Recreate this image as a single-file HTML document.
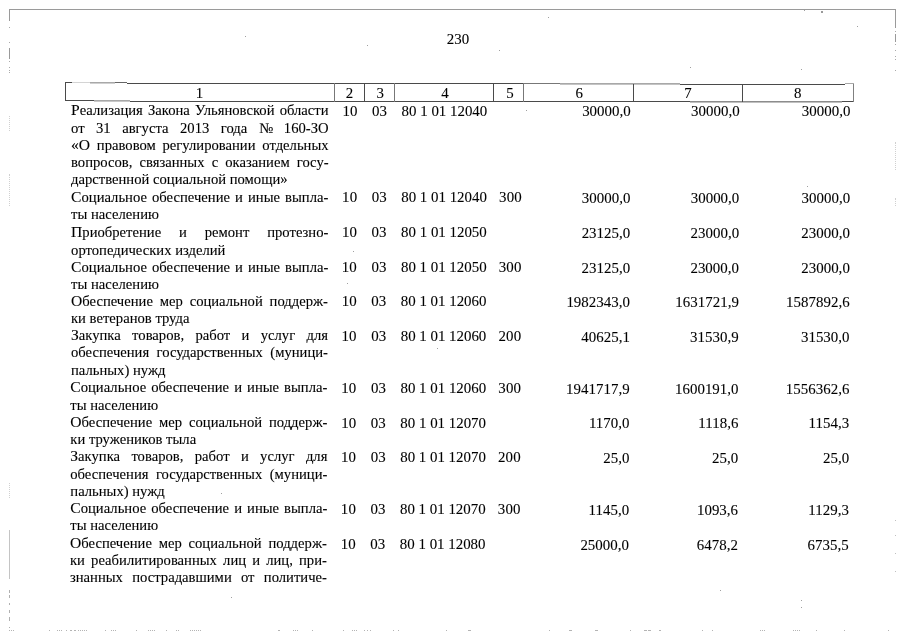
<!DOCTYPE html>
<html lang="ru">
<head>
<meta charset="utf-8">
<title>230</title>
<style>
html,body{margin:0;padding:0;background:#fff;}
body{width:905px;height:640px;position:relative;overflow:hidden;font-family:"Liberation Serif",serif;font-size:14.65px;line-height:17.0px;color:#000;-webkit-text-stroke:0.1px #000;}
.t{position:absolute;white-space:nowrap;height:17.0px;}
.j{white-space:normal;text-align:justify;text-align-last:justify;}
.nb{display:inline-block;white-space:nowrap;}
.d{font-size:14.9px;letter-spacing:0.1px;transform:scaleY(1.03);transform-origin:0 13px;}
.c{transform:scaleY(1.04);transform-origin:0 13px;}
.cap::first-letter{font-size:15.6px;line-height:14px;}
.r{position:absolute;}
.dv{position:absolute;width:0;border-left:1px dotted #d0d0d0;}
.sp{position:absolute;left:0;top:0;}
</style>
</head>
<body>
<div class="r" style="left:65px;top:82px;width:7px;height:1px;background:#4a4a4a"></div><div class="r" style="left:72px;top:82px;width:18px;height:1px;background:#d4d4d4"></div><div class="r" style="left:90px;top:82px;width:25px;height:1px;background:#a8a8a8"></div><div class="r" style="left:90px;top:83px;width:25px;height:1px;background:#d0d0d0"></div><div class="r" style="left:115px;top:82px;width:12px;height:1px;background:#666"></div><div class="r" style="left:127px;top:83px;width:397px;height:1px;background:#4a4a4a"></div><div class="r" style="left:524px;top:83px;width:36px;height:1px;background:#777"></div><div class="r" style="left:560px;top:83px;width:120px;height:1px;background:#a8a8a8"></div><div class="r" style="left:560px;top:84px;width:120px;height:1px;background:#c4c4c4"></div><div class="r" style="left:680px;top:84px;width:165px;height:1px;background:#4a4a4a"></div><div class="r" style="left:845px;top:83px;width:9px;height:1px;background:#a8a8a8"></div><div class="r" style="left:65px;top:100px;width:29px;height:1px;background:#4a4a4a"></div><div class="r" style="left:94px;top:100px;width:36px;height:1px;background:#a8a8a8"></div><div class="r" style="left:94px;top:101px;width:36px;height:1px;background:#c8c8c8"></div><div class="r" style="left:130px;top:101px;width:560px;height:1px;background:#4a4a4a"></div><div class="r" style="left:690px;top:101px;width:152px;height:1px;background:#8c8c8c"></div><div class="r" style="left:690px;top:102px;width:152px;height:1px;background:#c0c0c0"></div><div class="r" style="left:842px;top:101px;width:12px;height:1px;background:#4a4a4a"></div><div class="r" style="left:65px;top:82px;width:1px;height:19px;background:#4a4a4a"></div><div class="r" style="left:334px;top:83px;width:1px;height:19px;background:#777"></div><div class="r" style="left:364px;top:83px;width:1px;height:19px;background:#4a4a4a"></div><div class="r" style="left:394px;top:83px;width:1px;height:19px;background:#777"></div><div class="r" style="left:493px;top:83px;width:1px;height:19px;background:#4a4a4a"></div><div class="r" style="left:523px;top:83px;width:1px;height:19px;background:#777"></div><div class="r" style="left:633px;top:84px;width:1px;height:18px;background:#4a4a4a"></div><div class="r" style="left:742px;top:84px;width:1px;height:18px;background:#4a4a4a"></div><div class="r" style="left:853px;top:84px;width:1px;height:18px;background:#808080"></div><div class="r" style="left:9px;top:9px;width:887px;height:1px;background:#9a9a9a"></div><div class="r" style="left:9px;top:9px;width:1px;height:12px;background:#9a9a9a"></div><div class="r" style="left:895px;top:9px;width:1px;height:19px;background:#9a9a9a"></div><div class="r" style="left:895px;top:34px;width:1px;height:8px;background:#9a9a9a"></div><div class="r" style="left:9px;top:48px;width:1px;height:11px;background:#9a9a9a"></div><div class="r" style="left:9px;top:27px;width:1px;height:1px;background:#aaa"></div><div class="r" style="left:9px;top:42px;width:1px;height:1px;background:#aaa"></div><div class="r" style="left:9px;top:61px;width:1px;height:1px;background:#aaa"></div><div class="r" style="left:9px;top:67px;width:1px;height:1px;background:#aaa"></div><div class="r" style="left:9px;top:70px;width:1px;height:1px;background:#aaa"></div><div class="r" style="left:9px;top:72px;width:1px;height:1px;background:#aaa"></div><div class="r" style="left:895px;top:31px;width:1px;height:1px;background:#aaa"></div><div class="r" style="left:895px;top:44px;width:1px;height:1px;background:#aaa"></div><div class="r" style="left:895px;top:50px;width:1px;height:1px;background:#aaa"></div><div class="r" style="left:895px;top:56px;width:1px;height:1px;background:#aaa"></div><div class="r" style="left:895px;top:59px;width:1px;height:1px;background:#aaa"></div><div class="r" style="left:895px;top:70px;width:1px;height:1px;background:#aaa"></div><div class="r" style="left:9px;top:530px;width:1px;height:49px;background:#c4c4c4"></div>
<div class="dv" style="left:9px;top:116px;height:15px"></div>
<div class="dv" style="left:9px;top:174px;height:32px"></div>
<div class="dv" style="left:9px;top:483px;height:15px"></div>
<div class="dv" style="left:895px;top:142px;height:28px"></div>
<div class="dv" style="left:895px;top:198px;height:8px"></div>
<svg class="sp" width="905" height="640" viewBox="0 0 905 640" shape-rendering="crispEdges"><rect x="9" y="630" width="1" height="1" fill="#b4b4b4"/><rect x="11" y="630" width="1" height="1" fill="#b4b4b4"/><rect x="13" y="630" width="1" height="1" fill="#b4b4b4"/><rect x="49" y="630" width="1" height="1" fill="#b4b4b4"/><rect x="57" y="630" width="1" height="1" fill="#b4b4b4"/><rect x="59" y="630" width="1" height="1" fill="#b4b4b4"/><rect x="61" y="630" width="1" height="1" fill="#b4b4b4"/><rect x="66" y="630" width="1" height="1" fill="#b4b4b4"/><rect x="70" y="630" width="2" height="1" fill="#b4b4b4"/><rect x="74" y="630" width="2" height="1" fill="#b4b4b4"/><rect x="78" y="630" width="1" height="1" fill="#b4b4b4"/><rect x="80" y="630" width="1" height="1" fill="#b4b4b4"/><rect x="82" y="630" width="1" height="1" fill="#b4b4b4"/><rect x="84" y="630" width="1" height="1" fill="#b4b4b4"/><rect x="86" y="630" width="1" height="1" fill="#b4b4b4"/><rect x="105" y="630" width="1" height="1" fill="#b4b4b4"/><rect x="111" y="630" width="1" height="1" fill="#b4b4b4"/><rect x="113" y="630" width="1" height="1" fill="#b4b4b4"/><rect x="115" y="630" width="1" height="1" fill="#b4b4b4"/><rect x="136" y="630" width="1" height="1" fill="#b4b4b4"/><rect x="148" y="630" width="1" height="1" fill="#b4b4b4"/><rect x="150" y="630" width="1" height="1" fill="#b4b4b4"/><rect x="152" y="630" width="1" height="1" fill="#b4b4b4"/><rect x="154" y="630" width="1" height="1" fill="#b4b4b4"/><rect x="166" y="630" width="1" height="1" fill="#b4b4b4"/><rect x="176" y="630" width="1" height="1" fill="#b4b4b4"/><rect x="178" y="630" width="1" height="1" fill="#b4b4b4"/><rect x="190" y="630" width="1" height="1" fill="#b4b4b4"/><rect x="192" y="630" width="1" height="1" fill="#b4b4b4"/><rect x="194" y="630" width="1" height="1" fill="#b4b4b4"/><rect x="196" y="630" width="1" height="1" fill="#b4b4b4"/><rect x="198" y="630" width="1" height="1" fill="#b4b4b4"/><rect x="200" y="630" width="1" height="1" fill="#b4b4b4"/><rect x="278" y="630" width="2" height="1" fill="#b4b4b4"/><rect x="293" y="630" width="1" height="1" fill="#b4b4b4"/><rect x="295" y="630" width="1" height="1" fill="#b4b4b4"/><rect x="297" y="630" width="1" height="1" fill="#b4b4b4"/><rect x="312" y="630" width="1" height="1" fill="#b4b4b4"/><rect x="343" y="630" width="1" height="1" fill="#b4b4b4"/><rect x="352" y="630" width="1" height="1" fill="#b4b4b4"/><rect x="354" y="630" width="1" height="1" fill="#b4b4b4"/><rect x="356" y="630" width="1" height="1" fill="#b4b4b4"/><rect x="364" y="630" width="1" height="1" fill="#b4b4b4"/><rect x="367" y="630" width="1" height="1" fill="#b4b4b4"/><rect x="370" y="630" width="1" height="1" fill="#b4b4b4"/><rect x="393" y="630" width="1" height="1" fill="#b4b4b4"/><rect x="398" y="630" width="1" height="1" fill="#b4b4b4"/><rect x="446" y="630" width="1" height="1" fill="#b4b4b4"/><rect x="468" y="630" width="3" height="1" fill="#b4b4b4"/><rect x="549" y="630" width="1" height="1" fill="#b4b4b4"/><rect x="569" y="630" width="3" height="1" fill="#b4b4b4"/><rect x="595" y="630" width="3" height="1" fill="#b4b4b4"/><rect x="630" y="630" width="1" height="1" fill="#b4b4b4"/><rect x="644" y="630" width="3" height="1" fill="#b4b4b4"/><rect x="648" y="630" width="3" height="1" fill="#b4b4b4"/><rect x="659" y="630" width="2" height="1" fill="#b4b4b4"/><rect x="702" y="630" width="1" height="1" fill="#b4b4b4"/><rect x="712" y="630" width="1" height="1" fill="#b4b4b4"/><rect x="760" y="630" width="1" height="1" fill="#b4b4b4"/><rect x="762" y="630" width="1" height="1" fill="#b4b4b4"/><rect x="764" y="630" width="1" height="1" fill="#b4b4b4"/><rect x="793" y="630" width="1" height="1" fill="#b4b4b4"/><rect x="795" y="630" width="1" height="1" fill="#b4b4b4"/><rect x="797" y="630" width="1" height="1" fill="#b4b4b4"/><rect x="799" y="630" width="1" height="1" fill="#b4b4b4"/><rect x="816" y="630" width="1" height="1" fill="#b4b4b4"/><rect x="844" y="630" width="1" height="1" fill="#b4b4b4"/><rect x="888" y="630" width="1" height="1" fill="#b4b4b4"/><rect x="9" y="590" width="1" height="3" fill="#b0b0b0"/><rect x="9" y="595" width="1" height="3" fill="#b0b0b0"/><rect x="9" y="603" width="1" height="2" fill="#b0b0b0"/><rect x="9" y="610" width="1" height="3" fill="#b0b0b0"/><rect x="9" y="617" width="1" height="4" fill="#b0b0b0"/><rect x="9" y="627" width="1" height="1" fill="#b0b0b0"/><rect x="895" y="520" width="1" height="1" fill="#c0c0c0"/><rect x="895" y="535" width="1" height="1" fill="#c0c0c0"/><rect x="895" y="553" width="1" height="1" fill="#c0c0c0"/><rect x="895" y="571" width="1" height="1" fill="#c0c0c0"/><rect x="245" y="36" width="1" height="1" fill="#a0a0a0"/><rect x="367" y="45" width="1" height="1" fill="#a0a0a0"/><rect x="499" y="50" width="1" height="1" fill="#a0a0a0"/><rect x="548" y="17" width="1" height="1" fill="#a0a0a0"/><rect x="690" y="67" width="1" height="1" fill="#a0a0a0"/><rect x="857" y="26" width="1" height="1" fill="#a0a0a0"/><rect x="821" y="11" width="1" height="1" fill="#a0a0a0"/><rect x="804" y="10" width="1" height="1" fill="#a0a0a0"/><rect x="801" y="69" width="1" height="1" fill="#a0a0a0"/><rect x="807" y="186" width="1" height="1" fill="#a0a0a0"/><rect x="603" y="303" width="1" height="1" fill="#a0a0a0"/><rect x="437" y="348" width="1" height="1" fill="#a0a0a0"/><rect x="221" y="493" width="1" height="1" fill="#a0a0a0"/><rect x="231" y="597" width="1" height="1" fill="#a0a0a0"/><rect x="353" y="251" width="1" height="1" fill="#a0a0a0"/><rect x="347" y="283" width="1" height="1" fill="#a0a0a0"/><rect x="720" y="590" width="1" height="1" fill="#a0a0a0"/><rect x="801" y="600" width="1" height="1" fill="#a0a0a0"/><rect x="801" y="607" width="1" height="1" fill="#a0a0a0"/><rect x="526" y="110" width="1" height="1" fill="#a0a0a0"/><rect x="821" y="11" width="2" height="2" fill="#999"/></svg>
<div class="t j cap" style="top:102px;left:71.00px;width:257.60px;">Реализация Закона Ульяновской области</div>
<div class="t j" style="top:120px;left:71.00px;width:176.30px;">от 31 августа 2013 года</div>
<div class="t " style="top:120px;left:258.90px;">№</div>
<div class="t c" style="top:120px;right:576.40px;">160-ЗО</div>
<div class="t j cap" style="top:137px;left:71.00px;width:257.60px;">«О правовом регулировании отдельных</div>
<div class="t j" style="top:154px;left:71.00px;width:257.60px;">вопросов, связанных с оказанием госу-</div>
<div class="t " style="top:171px;left:71.00px;">дарственной социальной помощи»</div>
<div class="t j cap" style="top:189px;left:71.10px;width:257.30px;">Социальное обеспечение и иные выпла-</div>
<div class="t " style="top:206px;left:71.10px;">ты населению</div>
<div class="t j cap" style="top:224px;left:71.10px;width:257.30px;">Приобретение и ремонт протезно-</div>
<div class="t " style="top:242px;left:71.10px;">ортопедических изделий</div>
<div class="t j cap" style="top:259px;left:71.10px;width:257.30px;">Социальное обеспечение и иные выпла-</div>
<div class="t " style="top:276px;left:71.10px;">ты населению</div>
<div class="t j cap" style="top:293px;left:71.00px;width:257.00px;">Обеспечение мер социальной поддерж-</div>
<div class="t " style="top:310px;left:71.00px;">ки ветеранов труда</div>
<div class="t j cap" style="top:327px;left:71.00px;width:257.00px;">Закупка товаров, работ и услуг для</div>
<div class="t j" style="top:344px;left:71.00px;width:257.00px;">обеспечения государственных (муници-</div>
<div class="t " style="top:362px;left:71.00px;">пальных) нужд</div>
<div class="t j cap" style="top:379px;left:70.30px;width:257.10px;">Социальное обеспечение и иные выпла-</div>
<div class="t " style="top:397px;left:70.30px;">ты населению</div>
<div class="t j cap" style="top:414px;left:70.30px;width:257.10px;">Обеспечение мер социальной поддерж-</div>
<div class="t " style="top:431px;left:70.30px;">ки тружеников тыла</div>
<div class="t j cap" style="top:448px;left:70.30px;width:257.10px;">Закупка товаров, работ и услуг для</div>
<div class="t j" style="top:466px;left:70.30px;width:257.10px;">обеспечения государственных (муници-</div>
<div class="t " style="top:483px;left:70.30px;">пальных) нужд</div>
<div class="t j cap" style="top:500px;left:70.30px;width:257.10px;">Социальное обеспечение и иные выпла-</div>
<div class="t " style="top:517px;left:70.30px;">ты населению</div>
<div class="t j cap" style="top:535px;left:70.00px;width:256.90px;">Обеспечение мер социальной поддерж-</div>
<div class="t j" style="top:552px;left:70.00px;width:256.90px;">ки реабилитированных лиц и лиц, при-</div>
<div class="t j" style="top:569px;left:70.00px;width:256.90px;">знанных пострадавшими от политиче-</div>
<div class="t d" style="top:103px;left:300.00px;width:100px;text-align:center;">10</div>
<div class="t d" style="top:103px;left:329.60px;width:100px;text-align:center;">03</div>
<div class="t d" style="top:103px;left:401.60px;letter-spacing:0;">80 1 01 12040</div>
<div class="t d" style="top:103px;right:274.20px;letter-spacing:0.04px;">30000,0</div>
<div class="t d" style="top:103px;right:165.30px;letter-spacing:0.04px;">30000,0</div>
<div class="t d" style="top:103px;right:54.50px;letter-spacing:0.04px;">30000,0</div>
<div class="t d" style="top:189px;left:299.65px;width:100px;text-align:center;">10</div>
<div class="t d" style="top:189px;left:329.25px;width:100px;text-align:center;">03</div>
<div class="t d" style="top:189px;left:401.25px;letter-spacing:0;">80 1 01 12040</div>
<div class="t d" style="top:189px;left:460.45px;width:100px;text-align:center;">300</div>
<div class="t d" style="top:190px;right:274.55px;letter-spacing:0.04px;">30000,0</div>
<div class="t d" style="top:190px;right:165.65px;letter-spacing:0.04px;">30000,0</div>
<div class="t d" style="top:190px;right:54.85px;letter-spacing:0.04px;">30000,0</div>
<div class="t d" style="top:224px;left:299.51px;width:100px;text-align:center;">10</div>
<div class="t d" style="top:224px;left:329.11px;width:100px;text-align:center;">03</div>
<div class="t d" style="top:224px;left:401.11px;letter-spacing:0;">80 1 01 12050</div>
<div class="t d" style="top:225px;right:274.69px;letter-spacing:0.04px;">23125,0</div>
<div class="t d" style="top:225px;right:165.79px;letter-spacing:0.04px;">23000,0</div>
<div class="t d" style="top:225px;right:54.99px;letter-spacing:0.04px;">23000,0</div>
<div class="t d" style="top:259px;left:299.37px;width:100px;text-align:center;">10</div>
<div class="t d" style="top:259px;left:328.97px;width:100px;text-align:center;">03</div>
<div class="t d" style="top:259px;left:400.97px;letter-spacing:0;">80 1 01 12050</div>
<div class="t d" style="top:259px;left:460.17px;width:100px;text-align:center;">300</div>
<div class="t d" style="top:260px;right:274.83px;letter-spacing:0.04px;">23125,0</div>
<div class="t d" style="top:260px;right:165.93px;letter-spacing:0.04px;">23000,0</div>
<div class="t d" style="top:260px;right:55.13px;letter-spacing:0.04px;">23000,0</div>
<div class="t d" style="top:293px;left:299.24px;width:100px;text-align:center;">10</div>
<div class="t d" style="top:293px;left:328.84px;width:100px;text-align:center;">03</div>
<div class="t d" style="top:293px;left:400.84px;letter-spacing:0;">80 1 01 12060</div>
<div class="t d" style="top:294px;right:274.97px;letter-spacing:0.04px;">1982343,0</div>
<div class="t d" style="top:294px;right:166.07px;letter-spacing:0.04px;">1631721,9</div>
<div class="t d" style="top:294px;right:55.27px;letter-spacing:0.04px;">1587892,6</div>
<div class="t d" style="top:328px;left:299.10px;width:100px;text-align:center;">10</div>
<div class="t d" style="top:328px;left:328.70px;width:100px;text-align:center;">03</div>
<div class="t d" style="top:328px;left:400.70px;letter-spacing:0;">80 1 01 12060</div>
<div class="t d" style="top:328px;left:459.90px;width:100px;text-align:center;">200</div>
<div class="t d" style="top:329px;right:275.11px;letter-spacing:0.04px;">40625,1</div>
<div class="t d" style="top:329px;right:166.21px;letter-spacing:0.04px;">31530,9</div>
<div class="t d" style="top:329px;right:55.41px;letter-spacing:0.04px;">31530,0</div>
<div class="t d" style="top:380px;left:298.89px;width:100px;text-align:center;">10</div>
<div class="t d" style="top:380px;left:328.49px;width:100px;text-align:center;">03</div>
<div class="t d" style="top:380px;left:400.49px;letter-spacing:0;">80 1 01 12060</div>
<div class="t d" style="top:380px;left:459.69px;width:100px;text-align:center;">300</div>
<div class="t d" style="top:381px;right:275.32px;letter-spacing:0.04px;">1941717,9</div>
<div class="t d" style="top:381px;right:166.42px;letter-spacing:0.04px;">1600191,0</div>
<div class="t d" style="top:381px;right:55.62px;letter-spacing:0.04px;">1556362,6</div>
<div class="t d" style="top:415px;left:298.75px;width:100px;text-align:center;">10</div>
<div class="t d" style="top:415px;left:328.35px;width:100px;text-align:center;">03</div>
<div class="t d" style="top:415px;left:400.35px;letter-spacing:0;">80 1 01 12070</div>
<div class="t d" style="top:415px;right:275.45px;letter-spacing:0.04px;">1170,0</div>
<div class="t d" style="top:415px;right:166.55px;letter-spacing:0.04px;">1118,6</div>
<div class="t d" style="top:415px;right:55.75px;letter-spacing:0.04px;">1154,3</div>
<div class="t d" style="top:449px;left:298.61px;width:100px;text-align:center;">10</div>
<div class="t d" style="top:449px;left:328.21px;width:100px;text-align:center;">03</div>
<div class="t d" style="top:449px;left:400.21px;letter-spacing:0;">80 1 01 12070</div>
<div class="t d" style="top:449px;left:459.41px;width:100px;text-align:center;">200</div>
<div class="t d" style="top:450px;right:275.59px;letter-spacing:0.04px;">25,0</div>
<div class="t d" style="top:450px;right:166.69px;letter-spacing:0.04px;">25,0</div>
<div class="t d" style="top:450px;right:55.89px;letter-spacing:0.04px;">25,0</div>
<div class="t d" style="top:501px;left:298.40px;width:100px;text-align:center;">10</div>
<div class="t d" style="top:501px;left:328.00px;width:100px;text-align:center;">03</div>
<div class="t d" style="top:501px;left:400.00px;letter-spacing:0;">80 1 01 12070</div>
<div class="t d" style="top:501px;left:459.20px;width:100px;text-align:center;">300</div>
<div class="t d" style="top:502px;right:275.80px;letter-spacing:0.04px;">1145,0</div>
<div class="t d" style="top:502px;right:166.90px;letter-spacing:0.04px;">1093,6</div>
<div class="t d" style="top:502px;right:56.10px;letter-spacing:0.04px;">1129,3</div>
<div class="t d" style="top:536px;left:298.26px;width:100px;text-align:center;">10</div>
<div class="t d" style="top:536px;left:327.86px;width:100px;text-align:center;">03</div>
<div class="t d" style="top:536px;left:399.86px;letter-spacing:0;">80 1 01 12080</div>
<div class="t d" style="top:537px;right:275.94px;letter-spacing:0.04px;">25000,0</div>
<div class="t d" style="top:537px;right:167.04px;letter-spacing:0.04px;">6478,2</div>
<div class="t d" style="top:537px;right:56.24px;letter-spacing:0.04px;">6735,5</div>
<div class="t d" style="top:31px;left:408.08px;width:100px;text-align:center;transform:none;">230</div>
<div class="t d" style="top:85px;left:149.57px;width:100px;text-align:center;transform:scaleY(1.02);">1</div>
<div class="t d" style="top:85px;left:299.57px;width:100px;text-align:center;transform:scaleY(1.02);">2</div>
<div class="t d" style="top:85px;left:330.17px;width:100px;text-align:center;transform:scaleY(1.02);">3</div>
<div class="t d" style="top:85px;left:394.97px;width:100px;text-align:center;transform:scaleY(1.02);">4</div>
<div class="t d" style="top:85px;left:460.07px;width:100px;text-align:center;transform:scaleY(1.02);">5</div>
<div class="t d" style="top:85px;left:529.17px;width:100px;text-align:center;transform:scaleY(1.02);">6</div>
<div class="t d" style="top:85px;left:638.07px;width:100px;text-align:center;transform:scaleY(1.02);">7</div>
<div class="t d" style="top:85px;left:747.67px;width:100px;text-align:center;transform:scaleY(1.02);">8</div>
</body>
</html>
